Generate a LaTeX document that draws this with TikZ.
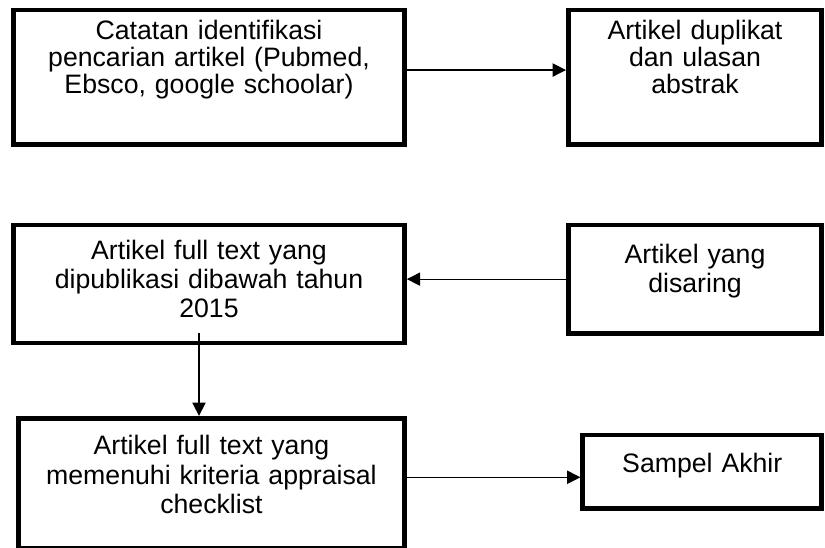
\documentclass[tikz,border=0pt]{standalone}
\usepackage{fontspec}
\setmainfont{Liberation Sans}
\usetikzlibrary{arrows.meta,positioning}
\tikzset{
  %Define standard arrow tip
  >={Triangle[length=10pt,width=10pt]},
  %Define style for boxes
  kotak/.style={
    rectangle,
    draw=black, line width=3.6pt,
    inner sep=0pt,
    align=center,
    font=\fontsize{20}{22}\selectfont},
  % Define arrow style
  panah/.style={
    ->,
    line width=0.9pt}
}

\begin{document}
\begin{tikzpicture}[x=0.75pt,y=-0.75pt]
  \useasboundingbox (0,0) rectangle (825,548);
  \node[kotak,font=\fontsize{20}{20.6}\selectfont,text width=293.25pt,text height=21.75pt,text depth=79.1pt]
    (identifikasi) at (209,77.25) {Catatan identifikasi\\pencarian artikel (Pubmed,\\Ebsco, google schoolar)};
  \node[kotak,font=\fontsize{20}{20.6}\selectfont,text width=190pt,text height=21.75pt,text depth=79.1pt]
    (duplikat) at (695,77.25) {Artikel duplikat\\dan ulasan\\abstrak};
  \node[kotak,text width=293.25pt,text height=25.7pt,text depth=62.8pt]
    (fulltext) at (209,284) {Artikel full text yang\\dipublikasi dibawah tahun\\2015};
  \node[kotak,text width=190pt,text height=28.7pt,text depth=52.5pt]
    (disaring) at (695,279.15) {Artikel yang\\disaring};
  \node[kotak,text width=289.1pt,text height=27.5pt,text depth=69.8pt]
    (appraisal) at (211.45,483.15) {Artikel full text yang\\memenuhi kriteria appraisal\\checklist};
  \node[kotak,text width=179.2pt,text height=28pt,text depth=27pt]
    (sampel) at (702.25,471.65) {Sampel Akhir};
  % free ends of the arrows
  \coordinate (a1) at ([yshift=5.4pt]identifikasi.east);
  \coordinate (a2) at ([xshift=-7.5pt,yshift=9.3pt]fulltext.south);
  \coordinate (a3) at ([yshift=4.4pt]appraisal.east);
  \draw[panah] (a1) -- (a1 -| duplikat.west);
  \draw[panah] (disaring.west) -- (disaring.west -| fulltext.east);
  \draw[panah] (a2) -- (a2 |- appraisal.north);
  \draw[panah] (a3) -- (a3 -| sampel.west);
\end{tikzpicture}
\end{document}
